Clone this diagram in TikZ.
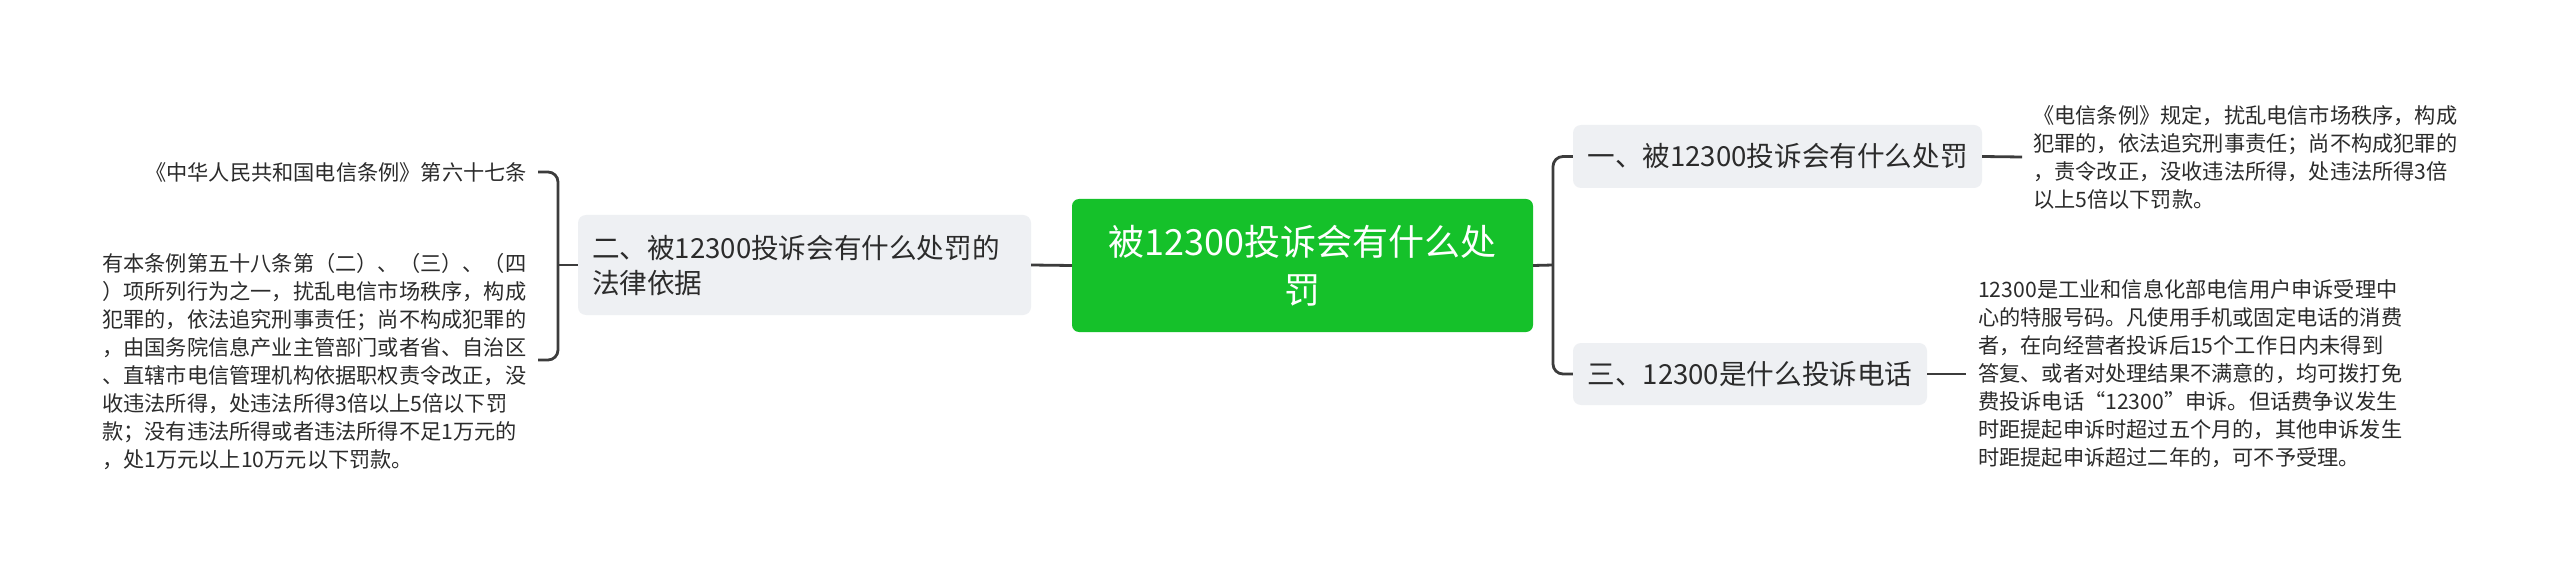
\documentclass[tikz,border=0pt]{standalone}
\usepackage{fontspec}
\newfontfamily\cjk{Noto Sans CJK SC}
\definecolor{rootgreen}{HTML}{15C12A}
\definecolor{boxgray}{HTML}{EEF0F3}
\definecolor{linegray}{HTML}{3C3C3C}
\definecolor{textdark}{HTML}{2B2B2B}
\tikzset{
  rootbox/.style={fill=rootgreen, rounded corners=7pt, text=white, align=center,
    font=\cjk\fontsize{36}{48}\selectfont, inner sep=0pt},
  topicbox/.style={fill=boxgray, rounded corners=8pt, text=textdark, align=left,
    font=\cjk\fontsize{27.6}{35}\selectfont, inner sep=0pt},
  leaftext/.style={text=textdark, align=left, font=\cjk\fontsize{21.2}{28}\selectfont,
    inner xsep=0pt, inner ysep=0pt},
  conn/.style={draw=linegray, line width=2.8pt},
}
\begin{document}
\begin{tikzpicture}[x=1pt,y=-1pt]
\useasboundingbox (0,0) rectangle (2560,572);
\fill[white] (0,0) rectangle (2560,572);

% root
\node[rootbox, minimum width=461pt, minimum height=133pt] (root) at (1302.5,265.5)
  {被12300投诉会有什么处\\罚};

% left topic
\node[topicbox, minimum width=453pt, minimum height=100pt, text width=425pt] (law) at (804.5,265)
  {二、被12300投诉会有什么处罚的\\法律依据};

% right topics
\node[topicbox, minimum width=409pt, minimum height=63pt, align=center] (pun) at (1777.5,156.5)
  {一、被12300投诉会有什么处罚};
\node[topicbox, minimum width=354pt, minimum height=62pt, align=center] (tel) at (1750,374)
  {三、12300是什么投诉电话};

% left leaves
\node[leaftext, anchor=east] (ll1) at (527,172)
  {《中华人民共和国电信条例》第六十七条};
\node[leaftext, anchor=west] (ll2) at (102,362)
  {有本条例第五十八条第（二）、（三）、（四\\
   ）项所列行为之一，扰乱电信市场秩序，构成\\
   犯罪的，依法追究刑事责任；尚不构成犯罪的\\
   ，由国务院信息产业主管部门或者省、自治区\\
   、直辖市电信管理机构依据职权责令改正，没\\
   收违法所得，处违法所得3倍以上5倍以下罚\\
   款；没有违法所得或者违法所得不足1万元的\\
   ，处1万元以上10万元以下罚款。};

% right leaves
\node[leaftext, anchor=west, inner xsep=11pt] (rl1) at (2022,157)
  {《电信条例》规定，扰乱电信市场秩序，构成\\
   犯罪的，依法追究刑事责任；尚不构成犯罪的\\
   ，责令改正，没收违法所得，处违法所得3倍\\
   以上5倍以下罚款。};
\node[leaftext, anchor=west, inner xsep=12pt] (rl2) at (1966,374)
  {12300是工业和信息化部电信用户申诉受理中\\
   心的特服号码。凡使用手机或固定电话的消费\\
   者，在向经营者投诉后15个工作日内未得到\\
   答复、或者对处理结果不满意的，均可拨打免\\
   费投诉电话“12300”申诉。但话费争议发生\\
   时距提起申诉时超过五个月的，其他申诉发生\\
   时距提起申诉超过二年的，可不予受理。};

% connectors
\coordinate (lb) at (558,265);
\coordinate (lt) at (538,172);
\coordinate (lbot) at (538,360);
\coordinate (rb) at (1553,265);

\draw[conn] (root.west) -- (law.east);
\draw[conn] (law.west) -- (lb);
\draw[conn, rounded corners=10pt] (lt) -| (lb) |- (lbot);

\draw[conn] (root.east) -- (rb);
\draw[conn, rounded corners=10pt] (pun.west) -| (rb) |- (tel.west);
\draw[conn] (pun.east) -- (rl1.west);
\draw[conn] (tel.east) -- (rl2.west);
\end{tikzpicture}
\end{document}
